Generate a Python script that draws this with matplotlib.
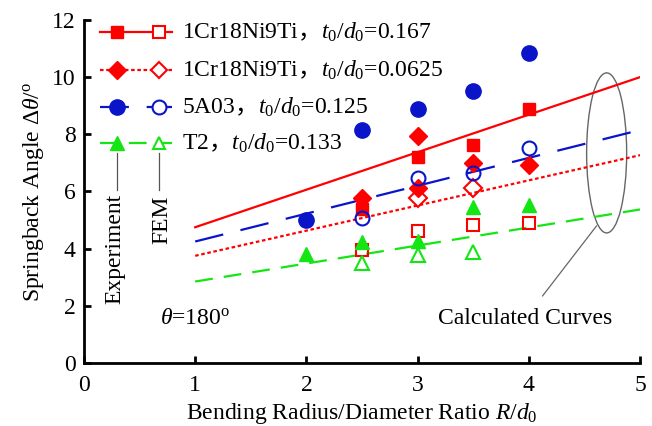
import matplotlib
matplotlib.use('Agg')
import matplotlib.pyplot as plt
from matplotlib.patches import Ellipse

plt.rcParams['font.family'] = ['Liberation Serif', 'Noto Sans CJK SC']
plt.rcParams['mathtext.fontset'] = 'custom'
plt.rcParams['mathtext.rm'] = 'Liberation Serif'
plt.rcParams['mathtext.it'] = 'Liberation Serif:italic'
plt.rcParams['mathtext.sf'] = 'Noto Sans CJK SC'

# ---- data ----
# 1Cr18Ni9Ti, t0/d0 = 0.167 (squares)
sq_exp_x = [2.5, 3, 3.5, 4]
sq_exp_y = [5.4, 7.2, 7.62, 8.88]
sq_fem_x = [2.5, 3, 3.5, 4]
sq_fem_y = [3.95, 4.62, 4.83, 4.9]
# 1Cr18Ni9Ti, t0/d0 = 0.0625 (diamonds)
di_exp_x = [2.5, 3, 3, 3.5, 4]
di_exp_y = [5.77, 7.94, 6.12, 6.99, 6.92]
di_fem_x = [3, 3.5]
di_fem_y = [5.77, 6.12]
# 5A03, t0/d0 = 0.125 (circles)
ci_exp_x = [2, 2.5, 3, 3.5, 4]
ci_exp_y = [5.0, 8.15, 8.87, 9.5, 10.85]
ci_fem_x = [2.5, 3, 3.5, 4]
ci_fem_y = [5.07, 6.47, 6.63, 7.52]
# T2, t0/d0 = 0.133 (triangles)
tr_exp_x = [2, 2.5, 3, 3.5, 4]
tr_exp_y = [3.8, 4.23, 4.27, 5.45, 5.52]
tr_fem_x = [2.5, 3, 3.5]
tr_fem_y = [3.5, 3.78, 3.88]

# calculated curves (straight lines from R/d0 = 1 to 5)
calc_x = [1, 5]
calc_sq = [4.75, 10.0]
calc_di = [3.75, 7.27]
calc_ci = [4.25, 8.15]
calc_tr = [2.85, 5.37]

labels = ['1Cr18Ni9Ti$\\mathsf{，}$$t_0/d_0$=0.167',
          '1Cr18Ni9Ti$\\mathsf{，}$$t_0/d_0$=0.0625',
          '5A03$\\mathsf{，}$$t_0/d_0$=0.125',
          'T2$\\mathsf{，}$$t_0/d_0$=0.133']

RED = '#ff0000'
BLUE = '#0a14c8'
GREEN = '#14e614'

fig = plt.figure(figsize=(6.52, 4.26), dpi=100)
ax = fig.add_axes([0.1288, 0.1479, 0.8528, 0.8052])

lw = 1.6
ax.plot(calc_x, calc_sq, color=RED, lw=lw, ls='-')
ax.plot(calc_x, calc_di, color=RED, lw=lw, dashes=(1.6, 1.2))
ax.plot(calc_x, calc_ci, color=BLUE, lw=lw, dashes=(13, 8))
ax.plot(calc_x, calc_tr, color=GREEN, lw=lw, dashes=(8, 5))

ax.plot(sq_exp_x, sq_exp_y, 's', color=RED, ms=9, ls='none')
ax.plot(sq_fem_x, sq_fem_y, 's', mec=RED, mfc='none', mew=1.5, ms=9, ls='none')
ax.plot(di_exp_x, di_exp_y, 'D', color=RED, ms=9, ls='none')
ax.plot(di_fem_x, di_fem_y, 'D', mec=RED, mfc='none', mew=1.5, ms=9, ls='none')
ax.plot(ci_exp_x, ci_exp_y, 'o', color=BLUE, ms=11, ls='none')
ax.plot(ci_fem_x, ci_fem_y, 'o', mec=BLUE, mfc='none', mew=1.5, ms=10, ls='none')
ax.plot(tr_exp_x, tr_exp_y, '^', color=GREEN, ms=10, ls='none')
ax.plot(tr_fem_x, tr_fem_y, '^', mec=GREEN, mfc='none', mew=1.5, ms=10, ls='none')

# hand-made legend
rows_y = [11.57, 10.24, 8.95, 7.69]
styles = [dict(color=RED, ls='-'), dict(color=RED, dashes=(1.6, 1.2)),
          dict(color=BLUE, dashes=(13, 8)), dict(color=GREEN, dashes=(8, 5))]
mk = [('s', 9), ('D', 9), ('o', 11), ('^', 10)]
cols = [RED, RED, BLUE, GREEN]
for y, st, (m, s), c, lab in zip(rows_y, styles, mk, cols, labels):
    ax.plot([0.144, 0.79], [y, y], lw=lw, clip_on=False, **st)
    ax.plot([0.297], [y], m, color=c, ms=s, clip_on=False)
    ax.plot([0.674], [y], m, mec=c, mfc='white', mew=1.5, ms=s - 1, clip_on=False)
    ax.text(0.88, y, lab, fontsize=17, va='center', ha='left')

ax.plot([0.297, 0.297], [7.34, 6.05], color='#555555', lw=0.9)
ax.plot([0.674, 0.674], [7.34, 6.05], color='#555555', lw=0.9)
ax.text(0.28, 4.0, 'Experiment', rotation=90, fontsize=17, ha='center', va='center')
ax.text(0.70, 5.0, 'FEM', rotation=90, fontsize=17, ha='center', va='center')

ax.text(1.0, 1.57, '$\\theta$=180$^\\mathrm{o}$', fontsize=17, ha='center', va='center')

ax.add_patch(Ellipse((4.7, 7.35), 0.36, 5.6, fill=False, ec='#666666', lw=1.0))
ax.annotate('Calculated Curves', xy=(4.61, 4.8), xytext=(3.97, 1.57),
            fontsize=17, ha='center', va='center',
            arrowprops=dict(arrowstyle='-', color='#666666', lw=0.9, shrinkA=8, shrinkB=0))

ax.set_xlim(0, 5)
ax.set_ylim(0, 12)
ax.set_xticks([0, 1, 2, 3, 4, 5])
ax.set_yticks([0, 2, 4, 6, 8, 10, 12])
for s in ['top', 'right']:
    ax.spines[s].set_visible(False)
for s in ['left', 'bottom']:
    ax.spines[s].set_linewidth(2.0)
ax.tick_params(direction='in', length=5, width=2, labelsize=17, pad=6)
ax.tick_params(axis='x', pad=9)
ax.set_xlabel('Bending Radius/Diameter Ratio $R/d_0$', fontsize=17, labelpad=3)
ax.set_ylabel('Springback Angle $\\mathit{\\Delta\\theta}$/$^\\mathrm{o}$', fontsize=17, labelpad=4)

fig.savefig('out.png', dpi=100)
